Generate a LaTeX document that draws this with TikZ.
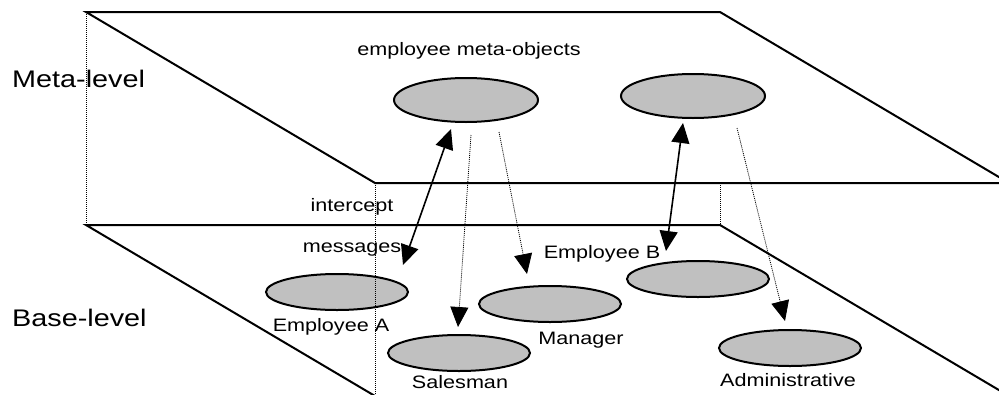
\documentclass[tikz,border=0pt]{standalone}
\usepackage{fontspec}
\setmainfont{Liberation Sans}[FakeStretch=1.2]
\usetikzlibrary{shapes.geometric,arrows.meta}
\definecolor{objgray}{RGB}{192,192,192}

\begin{document}
\begin{tikzpicture}[x=1pt,y=-1pt,>={Triangle[length=20pt,width=18pt]}]
\tikzstyle{every node}+=[inner sep=0pt]
\tikzstyle{plane}=[draw=black,line width=2pt,line join=miter]
\tikzstyle{hidden}=[line width=0.9pt,dash pattern=on 1pt off 1pt]
\tikzstyle{obj}=[ellipse,draw=black,line width=2pt,fill=objgray,minimum width=142pt,minimum height=36pt]
\tikzstyle{metaobj}=[obj,minimum width=144pt,minimum height=44pt]
\tikzstyle{msg}=[line width=1.6pt,<->]
\tikzstyle{reify}=[line width=0.8pt,dash pattern=on 1pt off 1pt,->]
\tikzstyle{txt}=[font=\fontsize{18}{20}\selectfont,anchor=base]
\tikzstyle{lvl}=[font=\fontsize{24}{28}\selectfont,anchor=base west]
\useasboundingbox (0,0) rectangle (999,394);
\clip (0,0) rectangle (999,394);
% the two levels
\draw [plane] (86,12) -- (720,12) -- (1009,183) -- (375,183) -- cycle;
\draw [plane] (86,225) -- (720,225) -- (1009,396) -- (375,396) -- cycle;
\node [lvl] (metalevel) at (12,87) {Meta-level};
\node [lvl] (baselevel) at (12,326) {Base-level};
% meta-objects
\node [metaobj] (mobjA) at (466,100) {};
\node [metaobj] (mobjB) at (693,96) {};
\node [txt] (lmeta) at (469,55) {employee meta-objects};
% base objects
\node [obj] (empA) at (337,292) {};
\node [obj] (sales) at (459,353) {};
\node [obj] (mgr) at (550,304) {};
\node [obj] (empB) at (698,279) {};
\node [obj] (admin) at (790,348) {};
\node [txt] (lempA) at (331,331) {Employee A};
\node [txt] (lsales) at (460,388) {Salesman};
\node [txt] (lmgr) at (581,344) {Manager};
\node [txt] (lempB) at (602,258) {Employee B};
\node [txt] (ladmin) at (788,386) {Administrative};
\node [txt] (lint) at (352,211) {intercept};
\node [txt] (lmsg) at (352,252) {messages};
% links between levels
\draw [msg] ([xshift=66pt,yshift=8pt]empA.north) -- ([xshift=-15pt,yshift=-6pt]mobjA.south);
\draw [msg] ([xshift=-32pt,yshift=9pt]empB.north) -- ([xshift=-10pt,yshift=-4pt]mobjB.south);
\draw [reify] ([xshift=5pt,yshift=-12pt]mobjA.south) -- ([xshift=-1pt,yshift=7pt]sales.north);
\draw [reify] ([xshift=33pt,yshift=-9pt]mobjA.south) -- ([xshift=-23pt,yshift=11pt]mgr.north);
\draw [reify] ([xshift=44pt,yshift=-9pt]mobjB.south) -- ([xshift=-5pt,yshift=8pt]admin.north);
% hidden edges
\draw [hidden] (86,12) -- (86,225);
\draw [hidden] (375,183) -- (375,396);
\draw [hidden] (720,183) -- (720,225);
\end{tikzpicture}
\end{document}
